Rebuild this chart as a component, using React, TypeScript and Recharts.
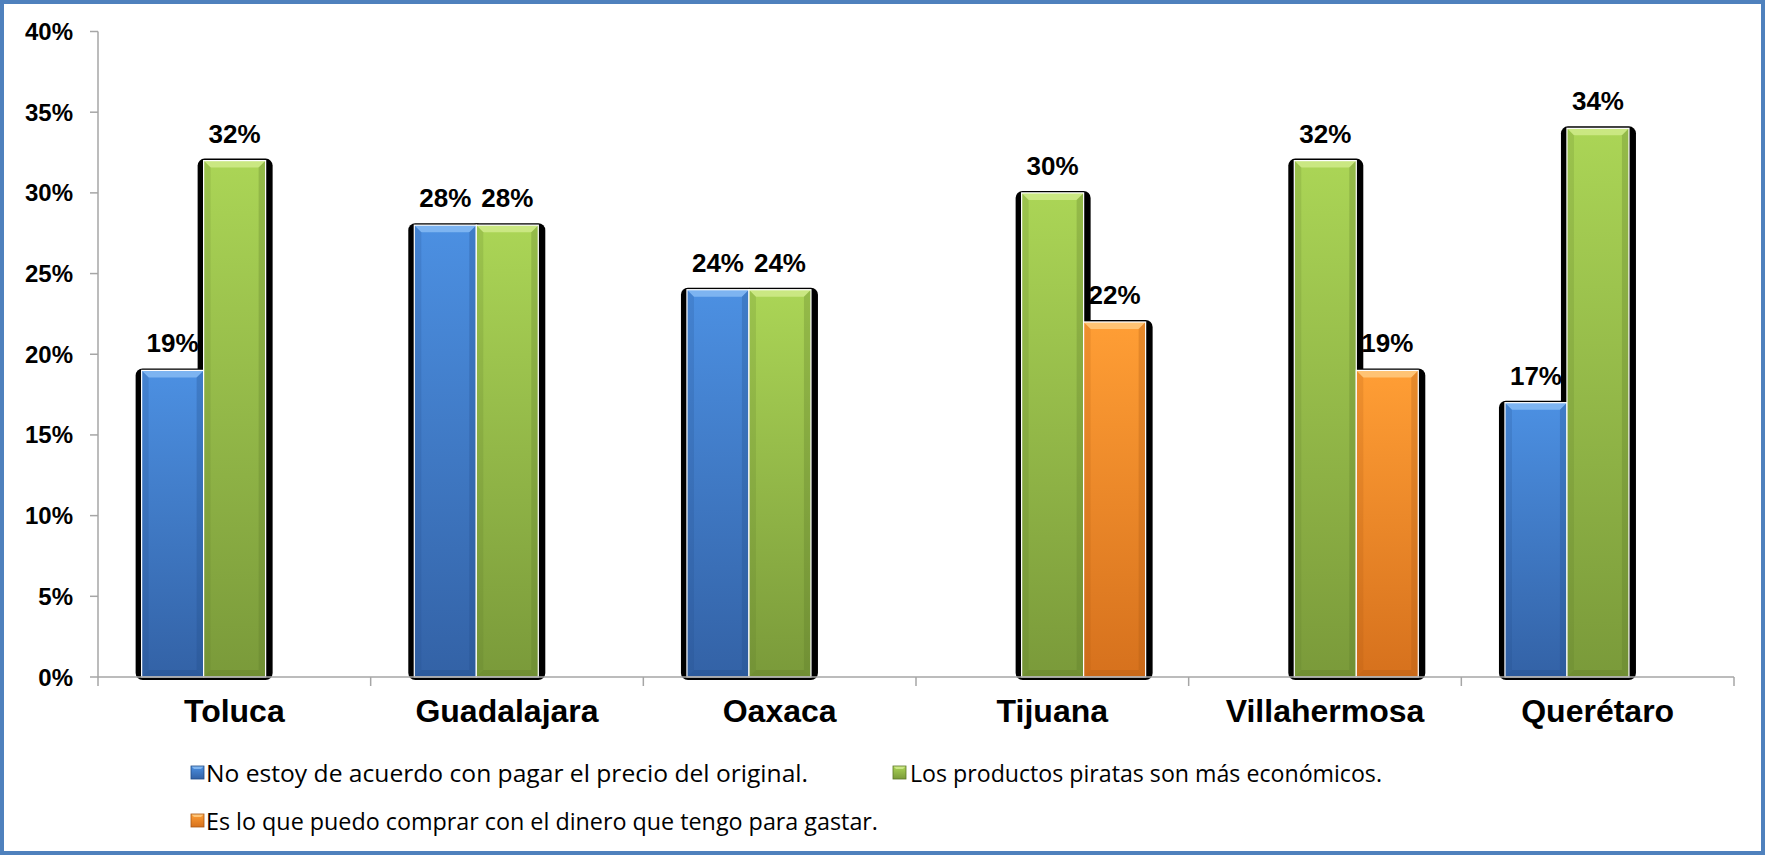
import React from 'react';
import { BarChart, Bar, XAxis, YAxis, LabelList } from 'recharts';

const cities = ['Toluca', 'Guadalajara', 'Oaxaca', 'Tijuana', 'Villahermosa', 'Querétaro'];
const noEstoy: (number | null)[] = [0.19, 0.28, 0.24, null, null, 0.17];
const economicos: (number | null)[] = [0.32, 0.28, 0.24, 0.30, 0.32, 0.34];
const dinero: (number | null)[] = [null, null, null, 0.22, 0.19, null];
const yTicks = [0, 0.05, 0.1, 0.15, 0.2, 0.25, 0.3, 0.35, 0.4];

const seriesNames = [
  'No estoy de acuerdo con pagar el precio del original.',
  'Los productos piratas son más económicos.',
  'Es lo que puedo comprar con el dinero que tengo para gastar.',
];

const data = cities.map((city, i) => ({ city, a: noEstoy[i], b: economicos[i], c: dinero[i] }));

const palettes = {
  a: { id: 'gA', top: '#4C90E2', bottom: '#3362A6', light: '#8EC0F5', dark: '#1F4A85' },
  b: { id: 'gB', top: '#ABD556', bottom: '#7A9A3A', light: '#D4EE92', dark: '#5B7526' },
  c: { id: 'gC', top: '#FF9E35', bottom: '#D6711D', light: '#FFD08A', dark: '#A85512' },
};

const FONT = '"Liberation Sans", Arial, sans-serif';
const AXIS_GRAY = '#A6A6A6';
const CAT_MARGIN = 22;

function makeShape(key: 'a' | 'b' | 'c') {
  const p = palettes[key];
  return (props: any) => {
    const { x, y, width: w, height: h, payload } = props;
    if (!payload || payload[key] == null || !(h > 0)) return <g />;
    const b = Math.min(7, w / 4);
    return (
      <g>
        <rect x={x} y={y} width={w} height={h} fill={`url(#${p.id})`} />
        <polygon points={`${x},${y} ${x + w},${y} ${x + w - b},${y + b} ${x + b},${y + b}`} fill={p.light} opacity={0.75} />
        <polygon points={`${x},${y} ${x + b},${y + b} ${x + b},${y + h - b} ${x},${y + h}`} fill={p.dark} opacity={0.18} />
        <polygon points={`${x + w},${y} ${x + w - b},${y + b} ${x + w - b},${y + h - b} ${x + w},${y + h}`} fill={p.dark} opacity={0.28} />
        <polygon points={`${x},${y + h} ${x + b},${y + h - b} ${x + w - b},${y + h - b} ${x + w},${y + h}`} fill={p.dark} opacity={0.3} />
        <rect x={x} y={y} width={w} height={h} fill="none" stroke="#FFFFFF" strokeWidth={1.2} />
      </g>
    );
  };
}

function makeShadow(key: 'a' | 'b' | 'c') {
  return (props: any) => {
    const { x, y, width: w, height: h, payload } = props;
    if (!payload || payload[key] == null || !(h > 0)) return <g />;
    return <rect x={x - 6} y={y - 2} width={w + 13} height={h + 5} rx={7} ry={7} fill="#000000" />;
  };
}

const pct = (v: any) => (v == null ? '' : `${Math.round(Number(v) * 100)}%`);

function CityTick(props: any) {
  const { x, y, payload, index, visibleTicksCount } = props;
  const half = payload && payload.offset ? payload.offset : 0;
  const axisY = y - CAT_MARGIN;
  const isLast = index === (visibleTicksCount ?? cities.length) - 1;
  return (
    <g>
      <line x1={x - half} x2={x - half} y1={axisY} y2={axisY + 9} stroke={AXIS_GRAY} strokeWidth={1.5} />
      {isLast && <line x1={x + half} x2={x + half} y1={axisY} y2={axisY + 9} stroke={AXIS_GRAY} strokeWidth={1.5} />}
      <text x={x} y={y} dy="0.71em" textAnchor="middle" fill="#000" fontSize={32} fontWeight={700} fontFamily={FONT}>
        {payload.value}
      </text>
    </g>
  );
}

function LegendIcon({ x, y, k }: { x: number; y: number; k: 'a' | 'b' | 'c' }) {
  const p = palettes[k];
  const s = 13;
  const b = 3;
  return (
    <g>
      <rect x={x} y={y} width={s} height={s} fill={`url(#L${p.id})`} />
      <polygon points={`${x},${y} ${x + s},${y} ${x + s - b},${y + b} ${x + b},${y + b}`} fill={p.light} opacity={0.8} />
      <rect x={x} y={y} width={s} height={s} fill="none" stroke={p.dark} strokeWidth={0.8} />
    </g>
  );
}

function ChartLegend() {
  const items = [
    { k: 'a' as const, ix: 191, tx: 206, y: 773, w: 602, name: seriesNames[0] },
    { k: 'b' as const, ix: 893, tx: 910, y: 773, w: 472, name: seriesNames[1] },
    { k: 'c' as const, ix: 191, tx: 206, y: 821, w: 672, name: seriesNames[2] },
  ];
  return (
    <svg width={1765} height={855} style={{ position: 'absolute', left: 0, top: 0, pointerEvents: 'none' }}>
      <defs>
        {Object.values(palettes).map((p) => (
          <linearGradient key={p.id} id={`L${p.id}`} x1="0" y1="0" x2="0" y2="1">
            <stop offset="0%" stopColor={p.top} />
            <stop offset="100%" stopColor={p.bottom} />
          </linearGradient>
        ))}
      </defs>
      {items.map((it) => (
        <g key={it.k}>
          <LegendIcon x={it.ix} y={it.y - 7} k={it.k} />
          <text
            x={it.tx}
            y={it.y}
            dominantBaseline="central"
            fontFamily='"Open Sans", "DejaVu Sans Condensed", sans-serif'
            fontSize={23}
            fill="#000"
            textLength={it.w}
            lengthAdjust="spacingAndGlyphs"
          >
            {it.name}
          </text>
        </g>
      ))}
    </svg>
  );
}

export default function App() {
  return (
    <div style={{ position: 'fixed', left: 0, top: 0, width: 1765, height: 855, background: '#FFFFFF' }}>
      <BarChart
        width={1765}
        height={855}
        data={data}
        margin={{ top: 31.5, right: 31, left: 0, bottom: 118 }}
        barCategoryGap="16%"
        barGap={0}
      >
        <defs>
          {Object.values(palettes).map((p) => (
            <linearGradient key={p.id} id={p.id} x1="0" y1="0" x2="0" y2="1">
              <stop offset="0%" stopColor={p.top} />
              <stop offset="100%" stopColor={p.bottom} />
            </linearGradient>
          ))}
        </defs>
        <XAxis
          xAxisId="main"
          dataKey="city"
          height={60}
          axisLine={{ stroke: AXIS_GRAY, strokeWidth: 1.5 }}
          tickLine={false}
          tickSize={0}
          tickMargin={CAT_MARGIN}
          tick={<CityTick />}
          interval={0}
        />
        <XAxis xAxisId="shadow" dataKey="city" hide />
        <YAxis
          width={98}
          domain={[0, 0.4]}
          ticks={yTicks}
          tickFormatter={pct}
          axisLine={{ stroke: AXIS_GRAY, strokeWidth: 1.5 }}
          tickLine={{ stroke: AXIS_GRAY, strokeWidth: 1.5 }}
          tickSize={8}
          tickMargin={17}
          tick={{ fill: '#000000', fontSize: 24, fontWeight: 700, fontFamily: FONT }}
        />
        <Bar xAxisId="shadow" dataKey="a" shape={makeShadow('a')} isAnimationActive={false} legendType="none" />
        <Bar xAxisId="shadow" dataKey="b" shape={makeShadow('b')} isAnimationActive={false} legendType="none" />
        <Bar xAxisId="shadow" dataKey="c" shape={makeShadow('c')} isAnimationActive={false} legendType="none" />
        <Bar xAxisId="main" dataKey="a" name={seriesNames[0]} shape={makeShape('a')} isAnimationActive={false}>
          <LabelList dataKey="a" position="top" offset={18} formatter={pct} fill="#000" fontSize={26} fontWeight={700} fontFamily={FONT} />
        </Bar>
        <Bar xAxisId="main" dataKey="b" name={seriesNames[1]} shape={makeShape('b')} isAnimationActive={false}>
          <LabelList dataKey="b" position="top" offset={18} formatter={pct} fill="#000" fontSize={26} fontWeight={700} fontFamily={FONT} />
        </Bar>
        <Bar xAxisId="main" dataKey="c" name={seriesNames[2]} shape={makeShape('c')} isAnimationActive={false}>
          <LabelList dataKey="c" position="top" offset={18} formatter={pct} fill="#000" fontSize={26} fontWeight={700} fontFamily={FONT} />
        </Bar>
      </BarChart>
      <ChartLegend />
      <div
        style={{
          position: 'absolute',
          left: 0,
          top: 0,
          width: 1765,
          height: 855,
          boxSizing: 'border-box',
          border: '4px solid #4F81BD',
          pointerEvents: 'none',
        }}
      />
    </div>
  );
}
